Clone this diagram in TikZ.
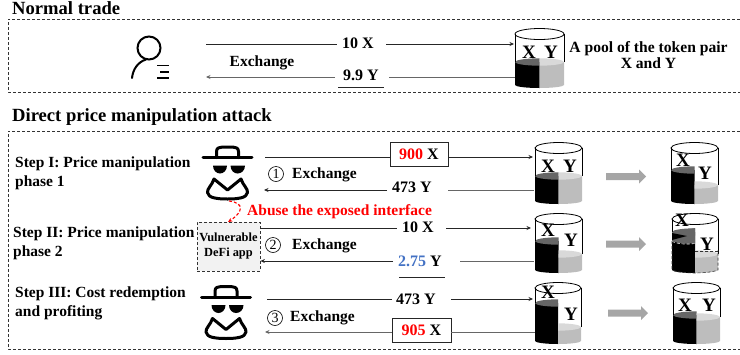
\documentclass[tikz,border=0pt]{standalone}
\usepackage{fontspec}
\setmainfont{Liberation Serif}
\usetikzlibrary{arrows.meta}
\definecolor{cgray}{HTML}{BDBDBD}
\definecolor{cdark}{HTML}{666666}
\definecolor{clight}{HTML}{D9D9D9}
\definecolor{arrowgray}{HTML}{A6A6A6}
\definecolor{blueval}{HTML}{4472C4}
\tikzset{
  x=1pt,y=-1pt,
  txt/.style={font=\bfseries\fontsize{#1}{#1}\selectfont,inner sep=0pt,text=black},
  txt/.default=15.5,
  head/.style={font=\bfseries\fontsize{18.6}{18.6}\selectfont,inner sep=0pt,anchor=west},
  steptxt/.style={font=\bfseries\fontsize{15.5}{19}\selectfont,inner sep=0pt,anchor=west,align=left},
  frame/.style={draw=black!80,densely dashed,line width=.8pt},
  flow/.style={draw=black!85,line width=.8pt},
  flowg/.style={draw=black!60,line width=1pt},
  tip/.style={-{Stealth[length=4.5pt,width=4pt]}},
  valbox/.style={draw=black!85,line width=.8pt,fill=white,minimum height=24pt,inner sep=0pt,font=\bfseries\fontsize{16}{16}\selectfont},
  num/.style={draw=black,circle,line width=.6pt,minimum size=15pt,inner sep=0pt,font=\fontsize{14}{14}\selectfont},
  poollet/.style={font=\bfseries\fontsize{19}{19}\selectfont,inner sep=0pt},
  icon/.style={line width=3pt,line cap=round,line join=round,draw=black},
}
% pool: name, left x, right x, top-centre y, bottom y, left level, right level
\newcommand{\pool}[7]{%
  \pgfmathsetmacro{\mx}{(#2+#3)/2}
  \pgfmathsetmacro{\rx}{(#3-#2)/2}
  \pgfmathsetmacro{\ka}{#2+.45*\rx}
  \pgfmathsetmacro{\kb}{#3-.45*\rx}
  \fill[black] (#2,#6) -- (\mx,#6) -- (\mx,#5+3) .. controls (\ka,#5+3) and (#2,#5+1.6) .. (#2,#5) -- cycle;
  \fill[cgray] (\mx,#7) -- (#3,#7) -- (#3,#5) .. controls (#3,#5+1.6) and (\kb,#5+3) .. (\mx,#5+3) -- cycle;
  \fill[cdark] (#2,#6) .. controls (#2,#6-2) and (\ka,#6-3.7) .. (\mx,#6-3.7) -- (\mx,#6+3.7) .. controls (\ka,#6+3.7) and (#2,#6+2) .. (#2,#6) -- cycle;
  \fill[clight] (#3,#7) .. controls (#3,#7-2) and (\kb,#7-3.7) .. (\mx,#7-3.7) -- (\mx,#7+3.7) .. controls (\kb,#7+3.7) and (#3,#7+2) .. (#3,#7) -- cycle;
  \draw[black,line width=.8pt] (#2,#4) -- (#2,#6) (#3,#4) -- (#3,#7);
  \draw[black,line width=.8pt] (\mx,#4) ellipse[x radius=\rx,y radius=5.5];
}
% attacker icon at centre x, brim y
\newcommand{\attacker}[2]{%
  \begin{scope}[shift={(#1,#2)}]
    \draw[icon] (-24.5,0) -- (24.5,0);
    \draw[icon] (-11,0) -- (-11,-6) .. controls (-11,-9.5) and (-8,-10.5) .. (-5,-10.5) -- (5,-10.5) .. controls (8,-10.5) and (11,-9.5) .. (11,-6) -- (11,0);
    \fill[black] (-14.5,8) -- (-0.5,8) .. controls (-0.5,13) and (-4,16) .. (-7.5,16) .. controls (-11,16) and (-14.5,13) .. (-14.5,8) -- cycle;
    \fill[black] (3,8) -- (17.5,8) .. controls (17.5,13) and (14,16) .. (10,16) .. controls (6.5,16) and (3,13) .. (3,8) -- cycle;
    \draw[icon] (-13.5,21.5) -- (0,32.5) -- (13.5,21.5) .. controls (15.5,28) and (20.5,31) .. (20,35) .. controls (19.5,40.5) and (10,41.5) .. (0,41.5) .. controls (-10,41.5) and (-19.5,40.5) .. (-20,35) .. controls (-20.5,31) and (-15.5,28) .. (-13.5,21.5) -- cycle;
  \end{scope}}
\newcommand{\grayarrow}[2]{%
  \fill[arrowgray] (#1,#2-3.5) -- (#1+33,#2-3.5) -- (#1+33,#2-7) -- (#1+40,#2) -- (#1+33,#2+7) -- (#1+33,#2+3.5) -- (#1,#2+3.5) -- cycle;}
\begin{document}
\begin{tikzpicture}
\useasboundingbox (0,0) rectangle (740,354);
% frames
\draw[frame] (740,19) -- (8,19) -- (8,92) -- (740,92);
\draw[frame] (740,131) -- (8,131) -- (8,349) -- (740,349);
\node[head] (h1) at (12,8.5) {Normal trade};
\node[head] (h2) at (12,117) {Direct price manipulation attack};
% user
\draw[black,line width=2pt] (149,48) circle[radius=11.5];
\draw[black,line width=2pt,line cap=round] (146,59.5) .. controls (138,62) and (133,69) .. (132,78);
\draw[black,line width=1.6pt] (157,65.5) -- (169,65.5) (160,72) -- (169,72) (157,78) -- (169,78);
% normal pool
\pool{pz}{515}{564}{34}{85}{62}{62}
\node[poollet] (zx) at (529,52) {X};
\node[poollet] (zy) at (551,52) {Y};
\node[txt=15.6,align=center] (ptxt) at (648.5,55) {\fontsize{15.6}{18.5}\selectfont A pool of the token pair\\X and Y};
\coordinate (ua) at (206,44);\coordinate (ub) at (206,77);
\coordinate (pa) at (514,44);\coordinate (pb) at (515,77);
\node[txt=16] (l10) at (358,43) {10 X};
\node[txt=16] (l99) at (361,75) {9.9 Y};
\node[txt] (lex) at (262,63) {Exchange};
\draw[flow] (ua) -- (337,44);
\draw[flow,tip] (386,44) -- (pa);
\draw[flowg,tip] (335,77) -- (ub);
\draw[flowg] (389,77) -- (pb);
\draw[flow,line width=.9pt] (338,87) -- (384,87);
% attackers and box
\attacker{227.5}{157.5}
\attacker{226}{297}
\node[draw=black!80,densely dashed,line width=.8pt,fill=black!5,minimum width=63pt,minimum height=49pt,inner sep=0pt,align=center,font=\bfseries\fontsize{12.4}{15}\selectfont] (vuln) at (228.5,246.5) {Vulnerable\\DeFi app};
\node[steptxt] (s1) at (15,173.5) {Step I: Price manipulation\\phase 1};
\node[steptxt] (s2) at (13,243.5) {Step II: Price manipulation\\phase 2};
\node[steptxt] (s3) at (15,303.5) {Step III: Cost redemption\\and profiting};
\coordinate (redstart) at (229,201);
\node[txt,text=red,anchor=west] (abuse) at (247,212) {Abuse the exposed interface};
\draw[red,densely dashed,line width=1.1pt,-{Stealth[length=4.5pt,width=4pt]}] (redstart) .. controls (245,203) and (243,212) .. (228,222);
% pools
\pool{a1}{535}{582}{148}{201}{176}{176}
\pool{b1}{671}{718}{148}{201}{170}{185}
\pool{a2}{535}{582}{219}{270}{241}{254}
\pool{b2}{672}{718}{219}{270}{232}{254}
\pool{a3}{535}{581}{288}{341}{303}{327}
\pool{b3}{673}{720}{288}{341}{315}{317}
% partial swap detail on pool b2
\fill[cdark] (672,232) -- (695,228) -- (695,243) .. controls (688,244) and (680,244) .. (672,241) -- cycle;
\fill[black] (672,233) -- (687,236) -- (672,240) -- cycle;
\draw[white,densely dashed,line width=.6pt] (672,241.5) .. controls (680,244.5) and (688,244.5) .. (695,243.5);
\draw[black!80,densely dashed,line width=.6pt] (672,241) -- (672,270) .. controls (680,274) and (708,274) .. (718,270) -- (718,250) (695,251.5) -- (718,251.5);
\foreach \n/\x/\y/\t in {a1x/548/166/X,a1y/570/166/Y,b1x/683/160/X,b1y/705/173/Y,a2x/548/230/X,a2y/571/240/Y,b2x/682/220/X,b2y/707/244/Y,a3x/548/292/X,a3y/571/314/Y,b3x/685/305/X,b3y/709/305/Y}
  \node[poollet] (\n) at (\x,\y) {\t};
% grey arrows
\grayarrow{606}{176.5}
\grayarrow{606}{244}
\grayarrow{608}{313}
% step I
\node[valbox,minimum width=58pt] (v1) at (419,154) {\textcolor{red}{900} X};
\node[txt=16] (y1) at (412,187) {473 Y};
\node[num] (n1) at (276,174) {1};
\node[txt,anchor=west] (e1) at (292,175) {Exchange};
\coordinate (a1s) at (265,157);\coordinate (a1r) at (264,190);
\coordinate (a1t) at (533,157);\coordinate (a1g) at (534,190);
\draw[flow] (a1s) -- (v1.west|-a1s);
\draw[flow,tip] (v1.east|-a1s) -- (a1t);
\draw[flow,tip] (387,190) -- (a1r);
\draw[flowg] (448,190) -- (a1g);
% step II
\node[txt=16] (x2) at (418,227) {10 X};
\node[txt=16] (y2) at (420,261) {\textcolor{blueval}{2.75} Y};
\node[num] (n2) at (273,245) {2};
\node[txt,anchor=west] (e2) at (292,246) {Exchange};
\coordinate (a2s) at (vuln.east|-0,228);\coordinate (a2r) at (vuln.east|-0,261);
\coordinate (a2t) at (531,228);\coordinate (a2g) at (534,261);
\draw[flow] (a2s) -- (397,228);
\draw[flow,tip] (446,228) -- (a2t);
\draw[flow,tip] (393,261) -- (a2r);
\draw[flowg] (460,261) -- (a2g);
\draw[flow,line width=.9pt] (399,277) -- (445,277);
% step III
\node[txt=16] (y3) at (416,299) {473 Y};
\node[valbox,minimum width=59pt] (v3) at (421.5,330) {\textcolor{red}{905} X};
\node[num] (n3) at (275,318) {3};
\node[txt,anchor=west] (e3) at (290,318) {Exchange};
\coordinate (a3s) at (267,299);\coordinate (a3r) at (265,332);
\coordinate (a3t) at (533,299);\coordinate (a3g) at (535,332);
\draw[flow] (a3s) -- (392,299);
\draw[flow,tip] (451,299) -- (a3t);
\draw[flowg,tip] (v3.west|-a3r) -- (a3r);
\draw[flowg] (v3.east|-a3g) -- (a3g);
\end{tikzpicture}
\end{document}
